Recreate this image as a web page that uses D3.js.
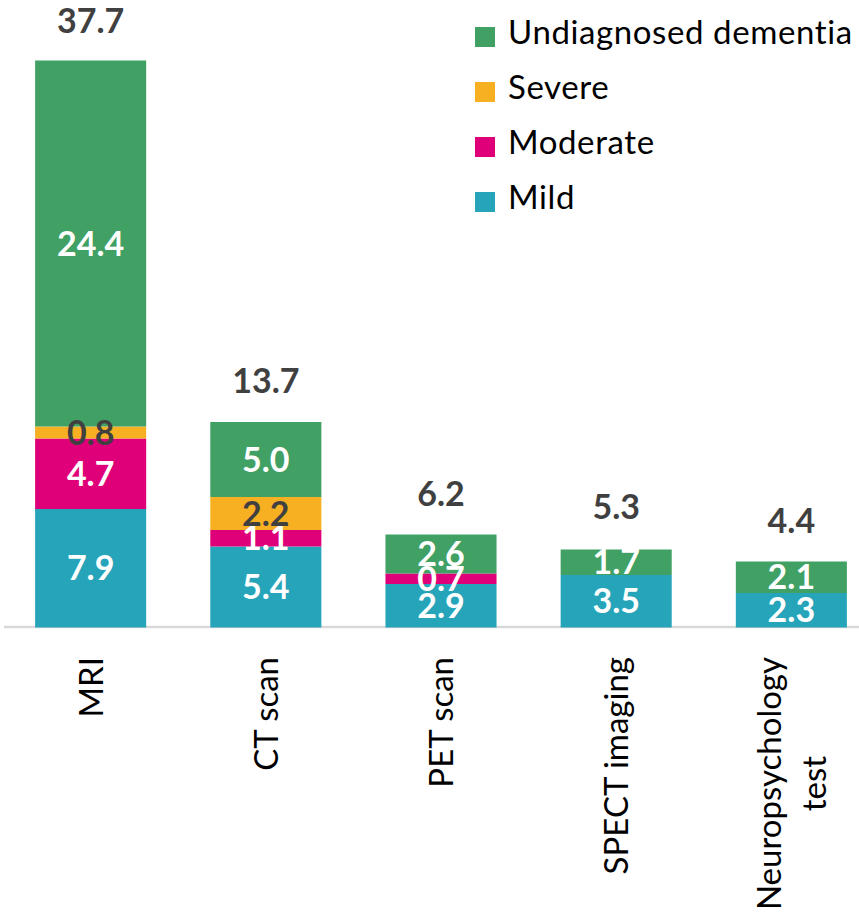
<!DOCTYPE html>
<html>
<head>
<meta charset="utf-8">
<script src="https://cdn.jsdelivr.net/npm/d3@7"></script>
<style>
    body { margin: 0; background: #fff; }
    svg { display: block; }
</style>
</head>
<body>
<div id="visualization"></div>
<script>
// Chart data
const categories = ["MRI", "CT scan", "PET scan", "SPECT imaging", "Neuropsychology test"];
const seriesNames = ["Mild", "Moderate", "Severe", "Undiagnosed dementia"];
const mild = [7.9, 5.4, 2.9, 3.5, 2.3];
const moderate = [4.7, 1.1, 0.7, 0, 0];
const severe = [0.8, 2.2, 0, 0, 0];
const undiagnosed = [24.4, 5.0, 2.6, 1.7, 2.1];
const totals = [37.7, 13.7, 6.2, 5.3, 4.4];
const categoryLines = [["MRI"], ["CT scan"], ["PET scan"], ["SPECT imaging"], ["Neuropsychology", "test"]];

const colors = {
    "Mild": "#26a4b9",
    "Moderate": "#df0079",
    "Severe": "#f8b023",
    "Undiagnosed dementia": "#41a064"
};
const labelColors = {
    "Mild": "#ffffff",
    "Moderate": "#ffffff",
    "Severe": "#404040",
    "Undiagnosed dementia": "#ffffff"
};

const width = 859;
const height = 915;
const baseline = 627.5;

// Build rows for the stack
let rows = categories.map((c, i) => ({
    category: c,
    "Mild": mild[i],
    "Moderate": moderate[i],
    "Severe": severe[i],
    "Undiagnosed dementia": undiagnosed[i]
}));

const svg = d3.select("#visualization").append("svg")
    .attr("width", width)
    .attr("height", height)
    .style("font-family", "Lato, 'Open Sans', sans-serif");

// Scales
let xScale = d3.scaleBand()
    .domain(categories)
    .range([-29, 911])
    .padding(0.366);
let yScale = d3.scaleLinear()
    .domain([0, 40])
    .range([baseline, baseline - 600]);

// Axis line
svg.append("line")
    .attr("x1", 4)
    .attr("x2", width)
    .attr("y1", 627)
    .attr("y2", 627)
    .attr("stroke", "#d9d9d9")
    .attr("stroke-width", 2.5);

// Stacked bars
let stacked = d3.stack().keys(seriesNames)(rows);
let layers = svg.selectAll("g.layer")
    .data(stacked)
    .enter().append("g")
        .attr("class", "layer")
        .attr("fill", d => colors[d.key]);

layers.selectAll("rect")
    .data(d => d.filter(s => s[1] - s[0] > 0))
    .enter().append("rect")
        .attr("x", s => xScale(s.data.category))
        .attr("width", xScale.bandwidth())
        .attr("y", s => yScale(s[1]))
        .attr("height", s => yScale(s[0]) - yScale(s[1]));

// Segment labels
stacked.forEach(layer => {
    layer.forEach(s => {
        let v = s[1] - s[0];
        if (v <= 0) return;
        svg.append("text")
            .attr("x", xScale(s.data.category) + xScale.bandwidth() / 2)
            .attr("y", (yScale(s[0]) + yScale(s[1])) / 2 + 12)
            .attr("text-anchor", "middle")
            .attr("font-size", 34)
            .attr("font-weight", "bold")
            .attr("fill", labelColors[layer.key])
            .text(v.toFixed(1));
    });
});

// Total labels above bars
categories.forEach((c, i) => {
    svg.append("text")
        .attr("x", xScale(c) + xScale.bandwidth() / 2)
        .attr("y", yScale(totals[i]) - 29)
        .attr("text-anchor", "middle")
        .attr("font-size", 34)
        .attr("font-weight", "bold")
        .attr("fill", "#404040")
        .text(totals[i].toFixed(1));
});

// Category labels, rotated
categories.forEach((c, i) => {
    let lines = categoryLines[i];
    let cx = xScale(c) + xScale.bandwidth() / 2;
    let g = svg.append("g");
    let texts = lines.map(l => g.append("text")
        .attr("font-size", 33)
        .attr("fill", "#000")
        .attr("text-anchor", "middle")
        .text(l));
    let maxW = d3.max(texts, t => t.node().getComputedTextLength());
    let cy = 657 + maxW / 2;
    texts.forEach((t, k) => {
        let bx = cx + 12 + (k - (lines.length - 1) / 2) * 45;
        t.attr("transform", `translate(${bx},${cy}) rotate(-90)`);
    });
});

// Legend
let legendOrder = ["Undiagnosed dementia", "Severe", "Moderate", "Mild"];
legendOrder.forEach((name, i) => {
    let cy = 37 + 55 * i;
    svg.append("rect")
        .attr("x", 475)
        .attr("y", cy - 10)
        .attr("width", 20)
        .attr("height", 20)
        .attr("fill", colors[name]);
    svg.append("text")
        .attr("x", 508)
        .attr("y", cy + 7)
        .attr("font-size", 33)
        .attr("letter-spacing", 0.6)
        .attr("fill", "#000")
        .text(name);
});
</script>
</body>
</html>
